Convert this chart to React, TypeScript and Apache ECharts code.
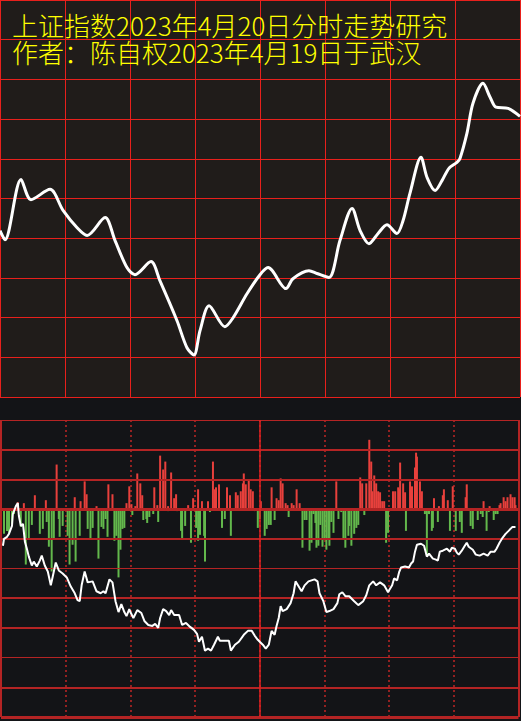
import React, { useEffect, useRef } from "react";
import * as echarts from "echarts";

// ---- Titles ----
const TITLE_1 = "上证指数2023年4月20日分时走势研究";
const TITLE_2 = "作者：陈自权2023年4月19日于武汉";

// ---- Top panel: forecast trend (minutes from open, relative level 0-100) ----
const trendMinutes = [0, 2.3, 9.7, 14.3, 23.1, 29.1, 35.5, 40.2, 48.5, 53.1, 58.6, 62.3, 69.7, 73.8, 81.7, 86.3, 89.5, 92.3, 96.5, 103.8, 107.5, 114, 120, 123.7, 132, 135.2, 142.6, 146.3, 151.8, 156.9, 162.5, 166.2, 170.3, 174.5, 178.6, 183.2, 186, 189.2, 194.3, 197.1, 200.8, 204, 207.2, 210.9, 212.3, 215.5, 218.3, 222.9, 226.2, 228.9, 234.5, 240];
const trendLevels = [41.9, 39.6, 54.8, 49.7, 52.3, 47.0, 42.7, 40.7, 45.2, 39.4, 32.6, 30.8, 34.1, 29.3, 19.2, 12.4, 10.6, 16.7, 23.0, 17.7, 19.9, 26.0, 30.8, 32.6, 27.3, 29.8, 31.8, 31.1, 30.1, 39.4, 47.5, 41.9, 38.6, 41.2, 43.4, 41.2, 44.4, 51.3, 60.4, 55.3, 52.0, 54.5, 57.6, 59.1, 60.1, 66.4, 74.0, 79.0, 75.5, 73.0, 72.7, 70.7];

// ---- Bottom panel: actual index line (minutes, relative points) ----
const indexMinutes = [0.9, 1.4, 2.8, 3.7, 5.1, 5.5, 6.9, 7.8, 8.3, 9.2, 10.2, 11.1, 12.0, 12.9, 14.3, 15.2, 16.6, 18.0, 18.9, 20.3, 21.7, 23.1, 24.0, 25.4, 26.8, 28.6, 30.5, 32.3, 34.2, 35.5, 36.5, 37.4, 38.8, 40.2, 42.5, 44.3, 46.2, 47.5, 48.5, 50.3, 51.7, 53.1, 54.5, 55.8, 57.2, 58.2, 59.5, 60.0, 61.4, 63.2, 65.1, 66.5, 68.3, 70.2, 71.5, 72.9, 73.8, 75.2, 76.6, 78.0, 78.9, 80.3, 82.6, 84.0, 85.8, 87.7, 89.5, 90.9, 91.8, 93.2, 94.6, 96.0, 97.4, 98.8, 100.6, 101.5, 103.8, 105.7, 106.6, 108.5, 110.3, 112.6, 114.5, 116.3, 117.7, 119.1, 120.0, 121.4, 122.8, 124.2, 125.5, 126.9, 127.8, 128.8, 129.7, 130.6, 132.5, 134.3, 135.7, 136.6, 138.0, 139.4, 140.8, 142.6, 145.4, 146.8, 147.7, 149.5, 150.9, 152.3, 154.2, 156.0, 156.9, 158.3, 159.7, 161.5, 163.8, 165.7, 168.0, 169.4, 170.8, 172.6, 174.0, 175.8, 177.7, 179.5, 180.0, 181.4, 182.3, 183.7, 184.6, 185.5, 187.4, 189.2, 190.2, 191.1, 192.0, 192.9, 194.8, 196.2, 197.5, 198.5, 200.3, 201.7, 202.6, 203.5, 204.9, 206.8, 208.2, 209.1, 210.5, 211.4, 212.3, 213.7, 215.1, 216.0, 216.9, 218.8, 220.2, 222.0, 223.8, 225.7, 227.1, 228.9, 229.8, 231.2, 232.6, 234.0, 235.4, 237.2, 238.6];
const indexValues = [-37, -30, -28, -25, -17, -5, 3, 6, -7, -17, -15, -33, -40, -48, -57, -53, -58, -52, -47, -57, -63, -77, -68, -54, -62, -65, -69, -78, -85, -92, -93, -77, -63, -74, -73, -83, -85, -83, -85, -71, -74, -93, -104, -96, -104, -108, -101, -104, -110, -102, -105, -113, -117, -118, -116, -120, -110, -101, -103, -107, -102, -107, -107, -117, -115, -119, -122, -126, -134, -129, -143, -141, -143, -137, -129, -133, -133, -133, -143, -137, -134, -127, -123, -123, -128, -132, -134, -137, -141, -137, -123, -127, -118, -110, -98, -103, -101, -95, -85, -73, -78, -83, -77, -73, -71, -73, -85, -93, -104, -103, -101, -95, -86, -84, -88, -88, -93, -97, -93, -87, -77, -73, -77, -74, -77, -84, -82, -77, -70, -72, -64, -59, -58, -59, -55, -53, -43, -36, -35, -37, -48, -45, -50, -51, -52, -43, -42, -40, -43, -39, -40, -44, -46, -42, -37, -34, -38, -41, -46, -47, -45, -47, -43, -43, -40, -34, -29, -25, -22, -18, -18];

// ---- Bottom panel: buy (red) and sell (green) flow bars [minute, value] ----
const buyFlow: [number, number][] = [
  [7.8, 7], [10.6, 6], [15.7, 14], [20.8, 9], [25.8, 45], [34.2, 12], [36.9, 8], [38.8, 28], [39.7, 15], [44.3, 3], [49.8, 25], [51.7, 15], [58.2, 6], [59.5, 23],
  [60.5, 5], [62.3, 3], [63.2, 36], [64.6, 26], [65.5, 14], [71.1, 22], [72.5, 4], [73.8, 54], [75.2, 40], [76.2, 48], [77.5, 3], [78.9, 37], [80.3, 11], [81.2, 15], [86.8, 4], [89.1, 11], [91.4, 20], [93.2, 8], [96.0, 8], [98.3, 48], [99.2, 20], [99.7, 22], [101.1, 25], [104.8, 22], [106.2, 14], [108.9, 17], [109.8, 14], [111.2, 18], [112.2, 26], [112.6, 36], [113.5, 25], [114.9, 29], [115.8, 20], [116.8, 18],
  [120.5, 8], [125.5, 22], [127.8, 11], [128.8, 9], [129.7, 31], [130.6, 26], [132.0, 6], [132.9, 4], [134.8, 6], [135.7, 4], [137.1, 20], [138.5, 6], [155.5, 28], [166.6, 32], [167.5, 26], [169.4, 26], [170.8, 70], [171.7, 48], [172.2, 18], [173.1, 34], [174.0, 26], [174.9, 18], [175.8, 17], [176.8, 8], [177.7, 8],
  [181.8, 18], [182.8, 18], [184.2, 22], [184.6, 20], [185.1, 47], [186.5, 26], [187.4, 17], [189.7, 28], [190.6, 23], [192.0, 42], [192.5, 57], [192.9, 53], [194.3, 28], [195.2, 18], [200.8, 11], [203.1, 3], [204.9, 14], [205.4, 20], [207.2, 9], [209.5, 23], [215.5, 12], [216.0, 25], [223.8, 8], [226.6, 3], [231.2, 4], [231.7, 6], [233.1, 12], [234.0, 8], [234.9, 12], [236.3, 15], [237.2, 12], [238.2, 12], [238.6, 4],
];
const sellFlow: [number, number][] = [
  [1.4, -25], [2.8, -22], [3.7, -24], [5.1, -15], [6.0, -5], [9.2, -18], [11.5, -56], [12.9, -30], [14.3, -16], [18.0, -25], [19.4, -20], [21.2, -13], [22.2, -38], [23.5, -63], [24.5, -30], [26.8, -10], [27.2, -28], [28.6, -17], [30.9, -27], [31.8, -56], [33.2, -36], [34.6, -53], [36.5, -27], [40.2, -20], [41.5, -31], [42.5, -19], [45.2, -50], [46.6, -18], [47.5, -20], [48.5, -10], [49.4, -28], [52.6, -32], [53.5, -27], [54.5, -69], [55.4, -41], [56.3, -20], [57.2, -19],
  [60.9, -6], [66.0, -11], [67.4, -10], [67.8, -14], [68.8, -8], [70.6, -5], [72.9, -13], [77.5, -2], [81.7, -2], [83.5, -22], [84.0, -30], [85.4, -17], [85.8, -2], [88.1, -34], [90.5, -19], [91.4, -32], [92.3, -26], [94.2, -27], [94.6, -53], [96.9, -3], [102.0, -2], [102.5, -19], [103.8, -10], [106.6, -27], [117.7, -2], [119.1, -19],
  [120.0, -10], [122.3, -27], [123.2, -20], [124.2, -16], [125.1, -16], [126.9, -11], [133.4, -8], [139.8, -39], [140.8, -11], [141.7, -11], [143.1, -42], [144.0, -34], [144.9, -5], [145.8, -14], [146.3, -39], [147.2, -37], [148.1, -16], [149.1, -38], [150.0, -30], [150.9, -41], [151.8, -30], [152.3, -37], [153.2, -13], [154.2, -24], [156.5, -10], [157.8, -3], [158.8, -30], [159.7, -39], [161.1, -27], [161.5, -17], [162.5, -37], [163.8, -25], [164.8, -19], [165.7, -16], [168.5, -6], [178.6, -34], [179.5, -24],
  [187.8, -22], [196.6, -5], [197.5, -47], [198.5, -5], [199.8, -22], [200.3, -19], [202.6, -13], [208.2, -22], [210.5, -2], [210.9, -22], [212.8, -13], [213.7, -24], [217.8, -17], [218.8, -20], [221.1, -11], [222.5, -5], [223.4, -8], [225.2, -22], [226.2, -3], [228.5, -11], [229.4, -5], [230.3, -5],
];

// ---- Axis ticks ----
const TIME_MIN = 0;
const TIME_MAX = 240;
const TIME_STEP = 30;
const TOP_MIN = 0;
const TOP_MAX = 100;
const TOP_STEP = 10;
const BOTTOM_MIN = -210;
const BOTTOM_MAX = 90;
const BOTTOM_STEP = 30;
const bottomRowTicks = [90, 60, 30, 0, -30, -60, -90, -120, -150, -180, -210];

// styles (kept apart from data)
const ROW_WIDTHS = [1, 2, 2, 3, 2, 1, 2, 2, 1, 2, 3];
const RED = "#e8403c";
const GREEN = "#63b84c";
const TOP_GRID_RED = "#e8201c";

export default function App() {
  const ref = useRef<HTMLDivElement>(null);

  useEffect(() => {
    if (!ref.current) return;
    const chart = echarts.init(ref.current, undefined, { renderer: "svg" });

    const hideAxis = {
      axisLine: { show: false },
      axisTick: { show: false },
      axisLabel: { show: false },
    };

    const barData = [
      ...buyFlow.map((d) => ({ value: d, itemStyle: { color: RED } })),
      ...sellFlow.map((d) => ({ value: d, itemStyle: { color: GREEN } })),
    ];

    const rowLines = bottomRowTicks.map((v, i) => ({
      yAxis: v,
      lineStyle: { width: ROW_WIDTHS[i], color: "#b42424", type: "solid" },
    }));

    const colLines = [
      { xAxis: TIME_MIN, lineStyle: { width: 2, color: "#b42424", type: "solid" } },
      { xAxis: 120, lineStyle: { width: 1.5, color: "#e02020", type: "solid" } },
      { xAxis: TIME_MAX, lineStyle: { width: 2, color: "#b42424", type: "solid" } },
    ];

    chart.setOption({
      animation: false,
      backgroundColor: "#131417",
      grid: [
        { left: 0, top: 0, width: 520, height: 397, show: true, backgroundColor: "#201c1a", borderWidth: 0 },
        { left: 1, top: 420, width: 517.5, height: 297, show: false },
      ],
      xAxis: [
        {
          type: "value", gridIndex: 0, min: TIME_MIN, max: TIME_MAX, interval: TIME_STEP,
          ...hideAxis,
          splitLine: { show: true, lineStyle: { color: TOP_GRID_RED, width: 1 } },
        },
        {
          type: "value", gridIndex: 1, min: TIME_MIN, max: TIME_MAX, interval: TIME_STEP,
          ...hideAxis,
          splitLine: { show: true, lineStyle: { color: "#c02626", width: 1.5, type: [2, 3] } },
        },
      ],
      yAxis: [
        {
          type: "value", gridIndex: 0, min: TOP_MIN, max: TOP_MAX, interval: TOP_STEP,
          ...hideAxis,
          splitLine: { show: true, lineStyle: { color: TOP_GRID_RED, width: 1 } },
        },
        {
          type: "value", gridIndex: 1, min: BOTTOM_MIN, max: BOTTOM_MAX, interval: BOTTOM_STEP,
          ...hideAxis,
          splitLine: { show: false },
        },
      ],
      series: [
        {
          type: "line",
          xAxisIndex: 0,
          yAxisIndex: 0,
          data: trendMinutes.map((t, i) => [t, trendLevels[i]]),
          smooth: 0.3,
          symbol: "none",
          lineStyle: { color: "#ffffff", width: 3 },
          z: 5,
        },
        {
          type: "bar",
          xAxisIndex: 1,
          yAxisIndex: 1,
          data: barData,
          barWidth: 2,
          z: 3,
          markLine: {
            silent: true,
            symbol: "none",
            label: { show: false },
            data: [...rowLines, ...colLines],
          },
        },
        {
          type: "line",
          xAxisIndex: 1,
          yAxisIndex: 1,
          data: indexMinutes.map((t, i) => [t, indexValues[i]]),
          symbol: "none",
          lineStyle: { color: "#ffffff", width: 2 },
          z: 6,
        },
      ],
      graphic: [
        {
          type: "text",
          x: 12,
          y: 10.5,
          z: 100,
          style: {
            text: TITLE_1 + "\n" + TITLE_2,
            fill: "#ffff00",
            font: '300 26px "Noto Sans CJK SC"',
            lineHeight: 27,
            verticalAlign: "top",
          },
        },
      ],
    });

    return () => chart.dispose();
  }, []);

  return (
    <div
      ref={ref}
      style={{ position: "fixed", left: 0, top: 0, width: 521, height: 721 }}
    />
  );
}
